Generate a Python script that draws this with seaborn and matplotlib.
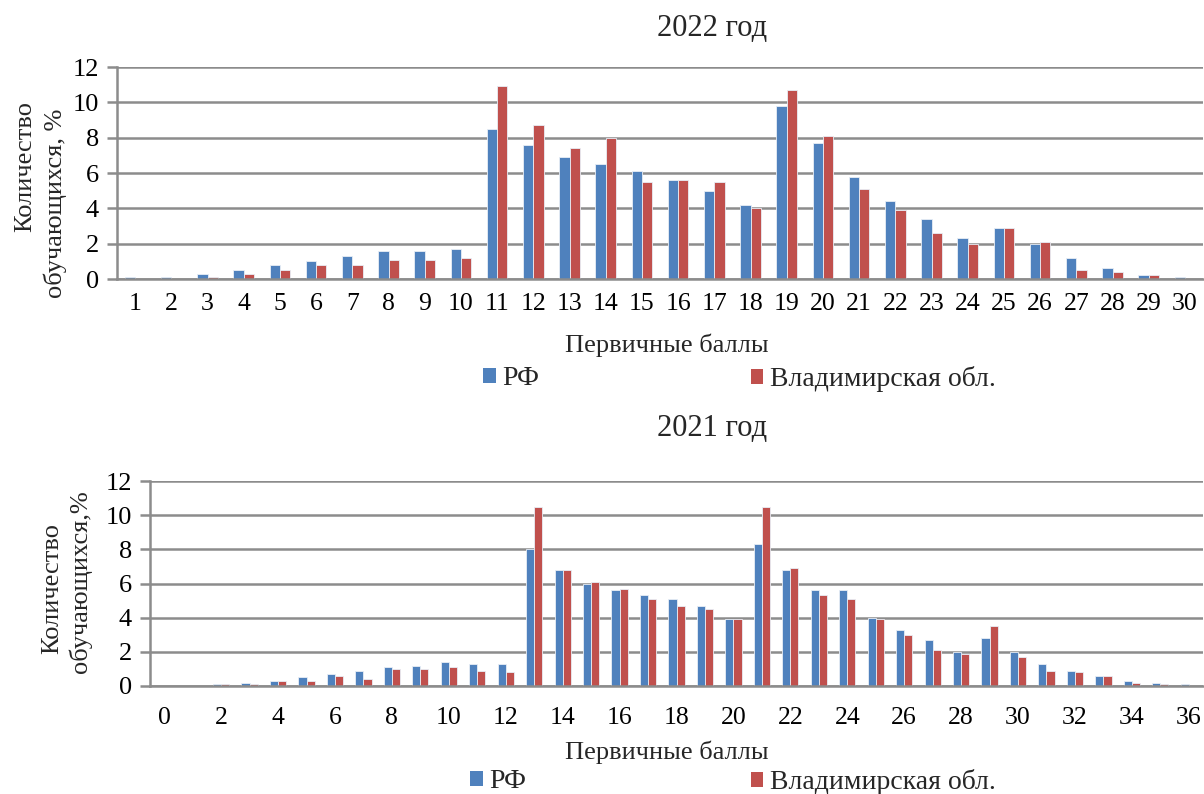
import matplotlib
matplotlib.use("Agg")
import matplotlib.pyplot as plt
import numpy as np
import pandas as pd
import seaborn as sns
from matplotlib.patches import Patch

# ---------------- data ----------------
series_names = ["РФ", "Владимирская обл."]
titles = ["2022 год", "2021 год"]
ylabel_lines_2022 = ["Количество", "обучающихся, %"]
ylabel_lines_2021 = ["Количество", "обучающихся,%"]
xlabel_text = "Первичные баллы"

scores_2022 = list(range(1, 31))
rf_2022 = [0.1, 0.1, 0.3, 0.5, 0.8, 1.0, 1.3, 1.6, 1.6, 1.7,
           8.5, 7.6, 6.9, 6.5, 6.1, 5.6, 5.0, 4.2, 9.8, 7.7,
           5.8, 4.4, 3.4, 2.3, 2.9, 2.0, 1.2, 0.6, 0.2, 0.1]
vlad_2022 = [0.0, 0.0, 0.1, 0.3, 0.5, 0.8, 0.8, 1.1, 1.1, 1.2,
             10.9, 8.7, 7.4, 8.0, 5.5, 5.6, 5.5, 4.0, 10.7, 8.1,
             5.1, 3.9, 2.6, 2.0, 2.9, 2.1, 0.5, 0.4, 0.2, 0.0]

scores_2021 = list(range(0, 37))
rf_2021 = [0.0, 0.0, 0.1, 0.2, 0.3, 0.5, 0.7, 0.9, 1.1, 1.2,
           1.4, 1.3, 1.3, 8.0, 6.8, 6.0, 5.6, 5.3, 5.1, 4.7,
           3.9, 8.3, 6.8, 5.6, 5.6, 4.0, 3.3, 2.7, 2.0, 2.8,
           2.0, 1.3, 0.9, 0.6, 0.3, 0.2, 0.1]
vlad_2021 = [0.0, 0.0, 0.1, 0.1, 0.3, 0.3, 0.6, 0.4, 1.0, 1.0,
             1.1, 0.9, 0.8, 10.5, 6.8, 6.1, 5.7, 5.1, 4.7, 4.5,
             3.9, 10.5, 6.9, 5.3, 5.1, 3.9, 3.0, 2.1, 1.9, 3.5,
             1.7, 0.9, 0.8, 0.6, 0.2, 0.1, 0.0]

# ---------------- style ----------------
W, H = 1204, 794
BLUE = "#4F81BD"
RED = "#C0504D"
GRID = "#8C8C8C"
FS = 18

sns.set_theme(style="white")
plt.rcParams["font.family"] = ["Liberation Serif", "DejaVu Serif"]

fig = plt.figure(figsize=(W / 100, H / 100), dpi=100)


def px_axes(left, top, right, bottom):
    return fig.add_axes([left / W, 1 - bottom / H, (right - left) / W, (bottom - top) / H])


def draw_panel(ax, scores, rf, vl, label_step, tick_pad):
    n = len(scores)
    cats = [str(s) for s in scores]
    df = pd.DataFrame({
        "score": cats * 2,
        "value": rf + vl,
        "series": [series_names[0]] * n + [series_names[1]] * n,
    })
    sns.barplot(data=df, x="score", y="value", hue="series", order=cats,
                hue_order=series_names, palette=[BLUE, RED], width=0.57,
                saturation=1, ax=ax, legend=False, linewidth=0.6,
                edgecolor="#e8eef6")
    ax.set_xlim(-0.5, n - 0.5)
    ax.set_ylim(0, 12)
    ax.set_yticks(range(0, 13, 2))
    ax.grid(axis="y", color=GRID, linewidth=1.8)
    ax.grid(axis="x", visible=False)
    ax.set_axisbelow(True)
    for s in ("top", "right"):
        ax.spines[s].set_visible(False)
    for s in ("left", "bottom"):
        ax.spines[s].set_color(GRID)
        ax.spines[s].set_linewidth(1.8)
    ax.set_xlabel("")
    ax.set_ylabel("")
    ax.set_xticks(range(n))
    ax.set_xticklabels([c if (label_step == 1 or int(c) % label_step == 0) else "" for c in cats])
    ax.set_xticks(np.arange(-0.5, n, 1.0), minor=True)
    ax.tick_params(axis="x", which="major", length=0, labelsize=FS + 0.5, pad=tick_pad, colors="black")
    ax.tick_params(axis="x", which="minor", length=7, width=1.8, color=GRID, direction="out")
    ax.tick_params(axis="y", which="major", left=True, length=7, width=1.8, color=GRID,
                   direction="out", labelsize=FS + 1, pad=6, labelcolor="black")


# ---------- 2022 ----------
ax1 = px_axes(117, 67, 1203, 279)
draw_panel(ax1, scores_2022, rf_2022, vlad_2022, 1, 10)
fig.text(712 / W, 1 - 29 / H, titles[0], ha="center", va="center", fontsize=22)
fig.text(667 / W, 1 - 345 / H, xlabel_text, ha="center", va="center", fontsize=19)
fig.text(25 / W, 1 - 167 / H, ylabel_lines_2022[0], rotation=90, ha="center", va="center", fontsize=19)
fig.text(55 / W, 1 - 203 / H, ylabel_lines_2022[1], rotation=90, ha="center", va="center", fontsize=19)

# ---------- 2021 ----------
ax2 = px_axes(150, 481, 1203, 686)
draw_panel(ax2, scores_2021, rf_2021, vlad_2021, 2, 15)
fig.text(712 / W, 1 - 428 / H, titles[1], ha="center", va="center", fontsize=22)
fig.text(667 / W, 1 - 752 / H, xlabel_text, ha="center", va="center", fontsize=19)
fig.text(52 / W, 1 - 589 / H, ylabel_lines_2021[0], rotation=90, ha="center", va="center", fontsize=19)
fig.text(80 / W, 1 - 582 / H, ylabel_lines_2021[1], rotation=90, ha="center", va="center", fontsize=19)

# ---------- legends ----------
def add_legend(x_px, y_px, label, color):
    fig.legend(handles=[Patch(facecolor=color, edgecolor="none", label=label)],
               loc="center left", bbox_to_anchor=(x_px / W, 1 - y_px / H),
               frameon=False, fontsize=20, handlelength=0.45, handleheight=0.45,
               handletextpad=0.25, borderpad=0, borderaxespad=0)

add_legend(483, 379, series_names[0], BLUE)
add_legend(751, 379, series_names[1], RED)
add_legend(470, 782, series_names[0], BLUE)
add_legend(751, 782, series_names[1], RED)

fig.savefig("out.png", dpi=100)
